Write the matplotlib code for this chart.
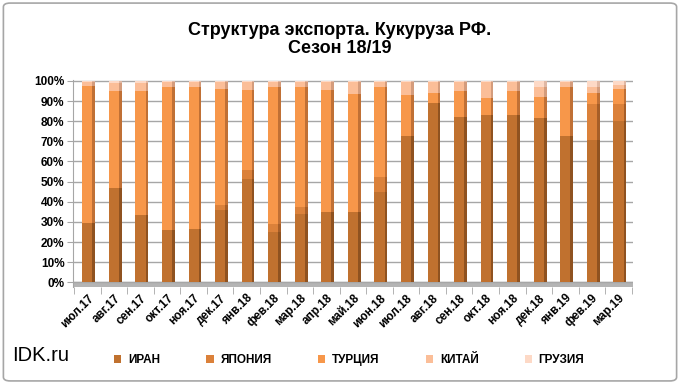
import numpy as np
import matplotlib.pyplot as plt
from matplotlib.patches import FancyBboxPatch

months = ['июл.17', 'авг.17', 'сен.17', 'окт.17', 'ноя.17', 'дек.17', 'янв.18',
          'фев.18', 'мар.18', 'апр.18', 'май.18', 'июн.18', 'июл.18', 'авг.18',
          'сен.18', 'окт.18', 'ноя.18', 'дек.18', 'янв.19', 'фев.19', 'мар.19']
iran = [29.5, 47, 33.5, 26, 26.5, 36, 51.5, 25, 34, 35, 35, 45, 72.5, 89, 82, 83, 83, 81.5, 72.5, 70.5, 80]
japan = [0, 0, 0, 0, 0, 2.5, 4.5, 4, 3.5, 0, 0, 7.5, 0, 0, 0, 0, 0, 0, 0, 18, 8.5]
turkey = [68, 48, 61.5, 71, 70.5, 57.5, 39.5, 68, 59.5, 60.5, 58.5, 44.5, 20.5, 5, 13, 8.5, 12, 10.5, 24.5, 5.5, 7.5]
china = [2, 4, 4, 2.5, 2.5, 3.5, 4, 2.5, 2.5, 4, 6, 2.5, 6.5, 5.5, 4.5, 8, 4.5, 5, 2.5, 3, 2]
georgia = [0.5, 1, 1, 0.5, 0.5, 0.5, 0.5, 0.5, 0.5, 0.5, 0.5, 0.5, 0.5, 0.5, 0.5, 0.5, 0.5, 3, 0.5, 3, 2]

names = ['ИРАН', 'ЯПОНИЯ', 'ТУРЦИЯ', 'КИТАЙ', 'ГРУЗИЯ']
series = [iran, japan, turkey, china, georgia]
colors = ['#C0712F', '#DB813A', '#F7974A', '#FBBE98', '#FDD9C6']
sides = ['#8F5220', '#A65E28', '#C07035', '#D49C7C', '#E0B8A4']

plt.rcParams['font.family'] = ['Liberation Sans', 'DejaVu Sans']

fig = plt.figure(figsize=(6.8, 3.84), dpi=100)
fig.patches.append(FancyBboxPatch((0.005, 0.008), 0.99, 0.984, boxstyle='round,pad=0,rounding_size=0.01',
                                  transform=fig.transFigure, fc='white', ec='#A6A6A6', lw=1.2, zorder=-10))

ax = fig.add_axes([0.107, 0.253, 0.824, 0.539])
x = np.arange(len(months))
w = 0.38
bottom = np.zeros(len(months))
handles = []
for vals, c, sc, n in zip(series, colors, sides, names):
    vals = np.array(vals, dtype=float)
    b = ax.bar(x, vals, w, bottom=bottom, color=c, label=n, zorder=3)
    # darker strip on the right side for a 3D look
    ax.bar(x + w / 2 + 0.05, vals, 0.1, bottom=bottom, color=sc, zorder=3)
    handles.append(b)
    bottom += vals

ax.axhspan(-2.2, 0, color='#B4B4B4', zorder=1)
ax.set_xlim(-0.55, len(months) - 0.45)
ax.set_ylim(-2.2, 100.5)
ax.set_yticks(np.arange(0, 101, 10))
ax.set_yticklabels([f'{v}%' for v in range(0, 101, 10)], fontsize=8.5, fontweight='bold')
ax.yaxis.grid(True, color='#A6A6A6', lw=1, zorder=0)
ax.set_xticks(x)
ax.set_xticklabels(months, rotation=45, ha='right', rotation_mode='anchor', fontsize=8.5, fontweight='bold')
ax.tick_params(axis='x', length=0, pad=4)
ax.tick_params(axis='y', length=4, color='#A6A6A6', pad=2)
ax.set_xticks(np.arange(-0.5, len(months)), minor=True)
ax.tick_params(axis='x', which='minor', length=5, color='#A6A6A6')
for s in ['top', 'right', 'bottom']:
    ax.spines[s].set_visible(False)
ax.spines['left'].set_color('#A6A6A6')

fig.text(0.5, 0.898, 'Структура экспорта. Кукуруза РФ.\nСезон 18/19', ha='center', va='center',
         fontsize=13, fontweight='bold', linespacing=1.1)
fig.text(0.018, 0.075, 'IDK.ru', fontsize=14.5, va='center')

leg = fig.legend(handles, names, loc='center left', bbox_to_anchor=(0.168, 0.062), ncol=5, frameon=False,
                 handlelength=0.6, handleheight=0.6, columnspacing=3.9, handletextpad=0.6,
                 prop={'size': 8.5, 'weight': 'bold'}, borderaxespad=0, borderpad=0)

fig.savefig('out.png', dpi=100)
